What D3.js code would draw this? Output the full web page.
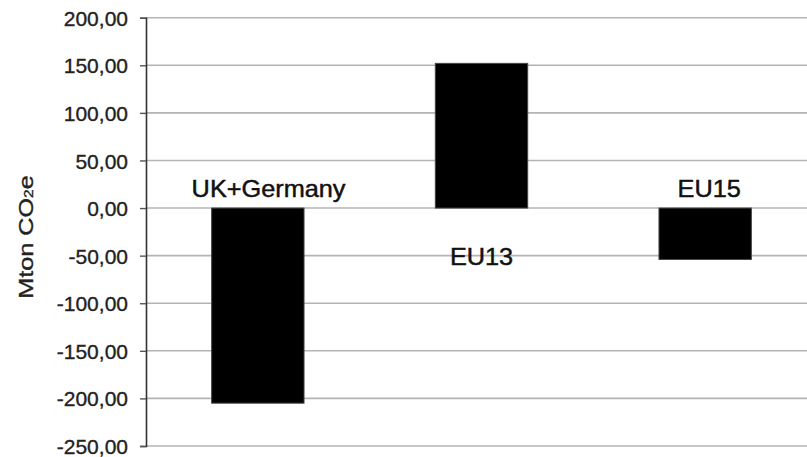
<!DOCTYPE html>
<html>
<head>
<meta charset="utf-8">
<script src="https://cdn.jsdelivr.net/npm/d3@7"></script>
<style>
  html, body { margin: 0; padding: 0; background: #fff; }
  svg { display: block; font-family: "Liberation Sans", Arial, Helvetica, sans-serif; }
</style>
</head>
<body>
<svg id="chart" width="807" height="457"></svg>
<script>
// Net change in emissions per region group (Mton CO2e)
const categories = ["UK+Germany", "EU13", "EU15"];
const values = [-205, 152, -54];
const tickValues = [200, 150, 100, 50, 0, -50, -100, -150, -200, -250];

const svg = d3.select("#chart");
const W = 807, H = 457;
const axisX = 146;

const y = d3.scaleLinear().domain([-250, 200]).range([446, 17.7]);
const x = d3.scaleBand()
  .domain(categories)
  .range([axisX, 817])
  .paddingInner(0.587)
  .paddingOuter(0.2935);

const fmt = v => d3.format(".2f")(v).replace(".", ",").replace("−", "-");

// gridlines
svg.append("g")
  .selectAll("line")
  .data(tickValues)
  .join("line")
  .attr("x1", axisX).attr("x2", W)
  .attr("y1", d => y(d)).attr("y2", d => y(d))
  .attr("stroke", "#b4b4b4")
  .attr("stroke-width", 1.6);

// bars
svg.append("g")
  .selectAll("rect")
  .data(categories.map((c, i) => ({ c, v: values[i] })))
  .join("rect")
  .attr("x", d => x(d.c))
  .attr("width", x.bandwidth())
  .attr("y", d => y(Math.max(0, d.v)))
  .attr("height", d => Math.abs(y(d.v) - y(0)))
  .attr("fill", "#000")
  .attr("stroke", "#444")
  .attr("stroke-width", 1);

// y axis
const yAxis = d3.axisLeft(y)
  .tickValues(tickValues)
  .tickFormat(fmt)
  .tickSizeInner(6)
  .tickSizeOuter(6)
  .tickPadding(12);

const gAxis = svg.append("g")
  .attr("transform", `translate(${axisX},0)`)
  .call(yAxis);
gAxis.select(".domain").attr("stroke", "#333").attr("stroke-width", 1.6);
gAxis.selectAll(".tick line").attr("stroke", "#555").attr("stroke-width", 1.4);
gAxis.selectAll(".tick text")
  .attr("font-size", 21)
  .attr("font-family", "Liberation Sans, Arial, sans-serif")
  .attr("fill", "#222")
  .attr("stroke", "#222")
  .attr("stroke-width", 0.35)
  .attr("dy", "0.36em");

// axis title
const title = svg.append("text")
  .attr("transform", "translate(33,237) rotate(-90) scale(1.2,1)")
  .attr("text-anchor", "middle")
  .attr("font-size", 21)
  .attr("fill", "#222")
  .attr("stroke", "#222")
  .attr("stroke-width", 0.35);
title.append("tspan").text("Mton CO");
title.append("tspan").attr("font-size", 13).text("2");
title.append("tspan").text("e");

// category labels, placed beside the zero line
const labelPos = [
  { dx: 10.7, baseline: 197.3 },
  { dx: 0, baseline: 265 },
  { dx: 4, baseline: 197.3 }
];
svg.append("g")
  .selectAll("text")
  .data(categories)
  .join("text")
  .attr("transform", (d, i) =>
    `translate(${x(d) + x.bandwidth() / 2 + labelPos[i].dx},${labelPos[i].baseline}) scale(1.1,1)`)
  .attr("text-anchor", "middle")
  .attr("font-size", 23)
  .attr("fill", "#111")
  .attr("stroke", "#111")
  .attr("stroke-width", 0.45)
  .text(d => d);
</script>
</body>
</html>
